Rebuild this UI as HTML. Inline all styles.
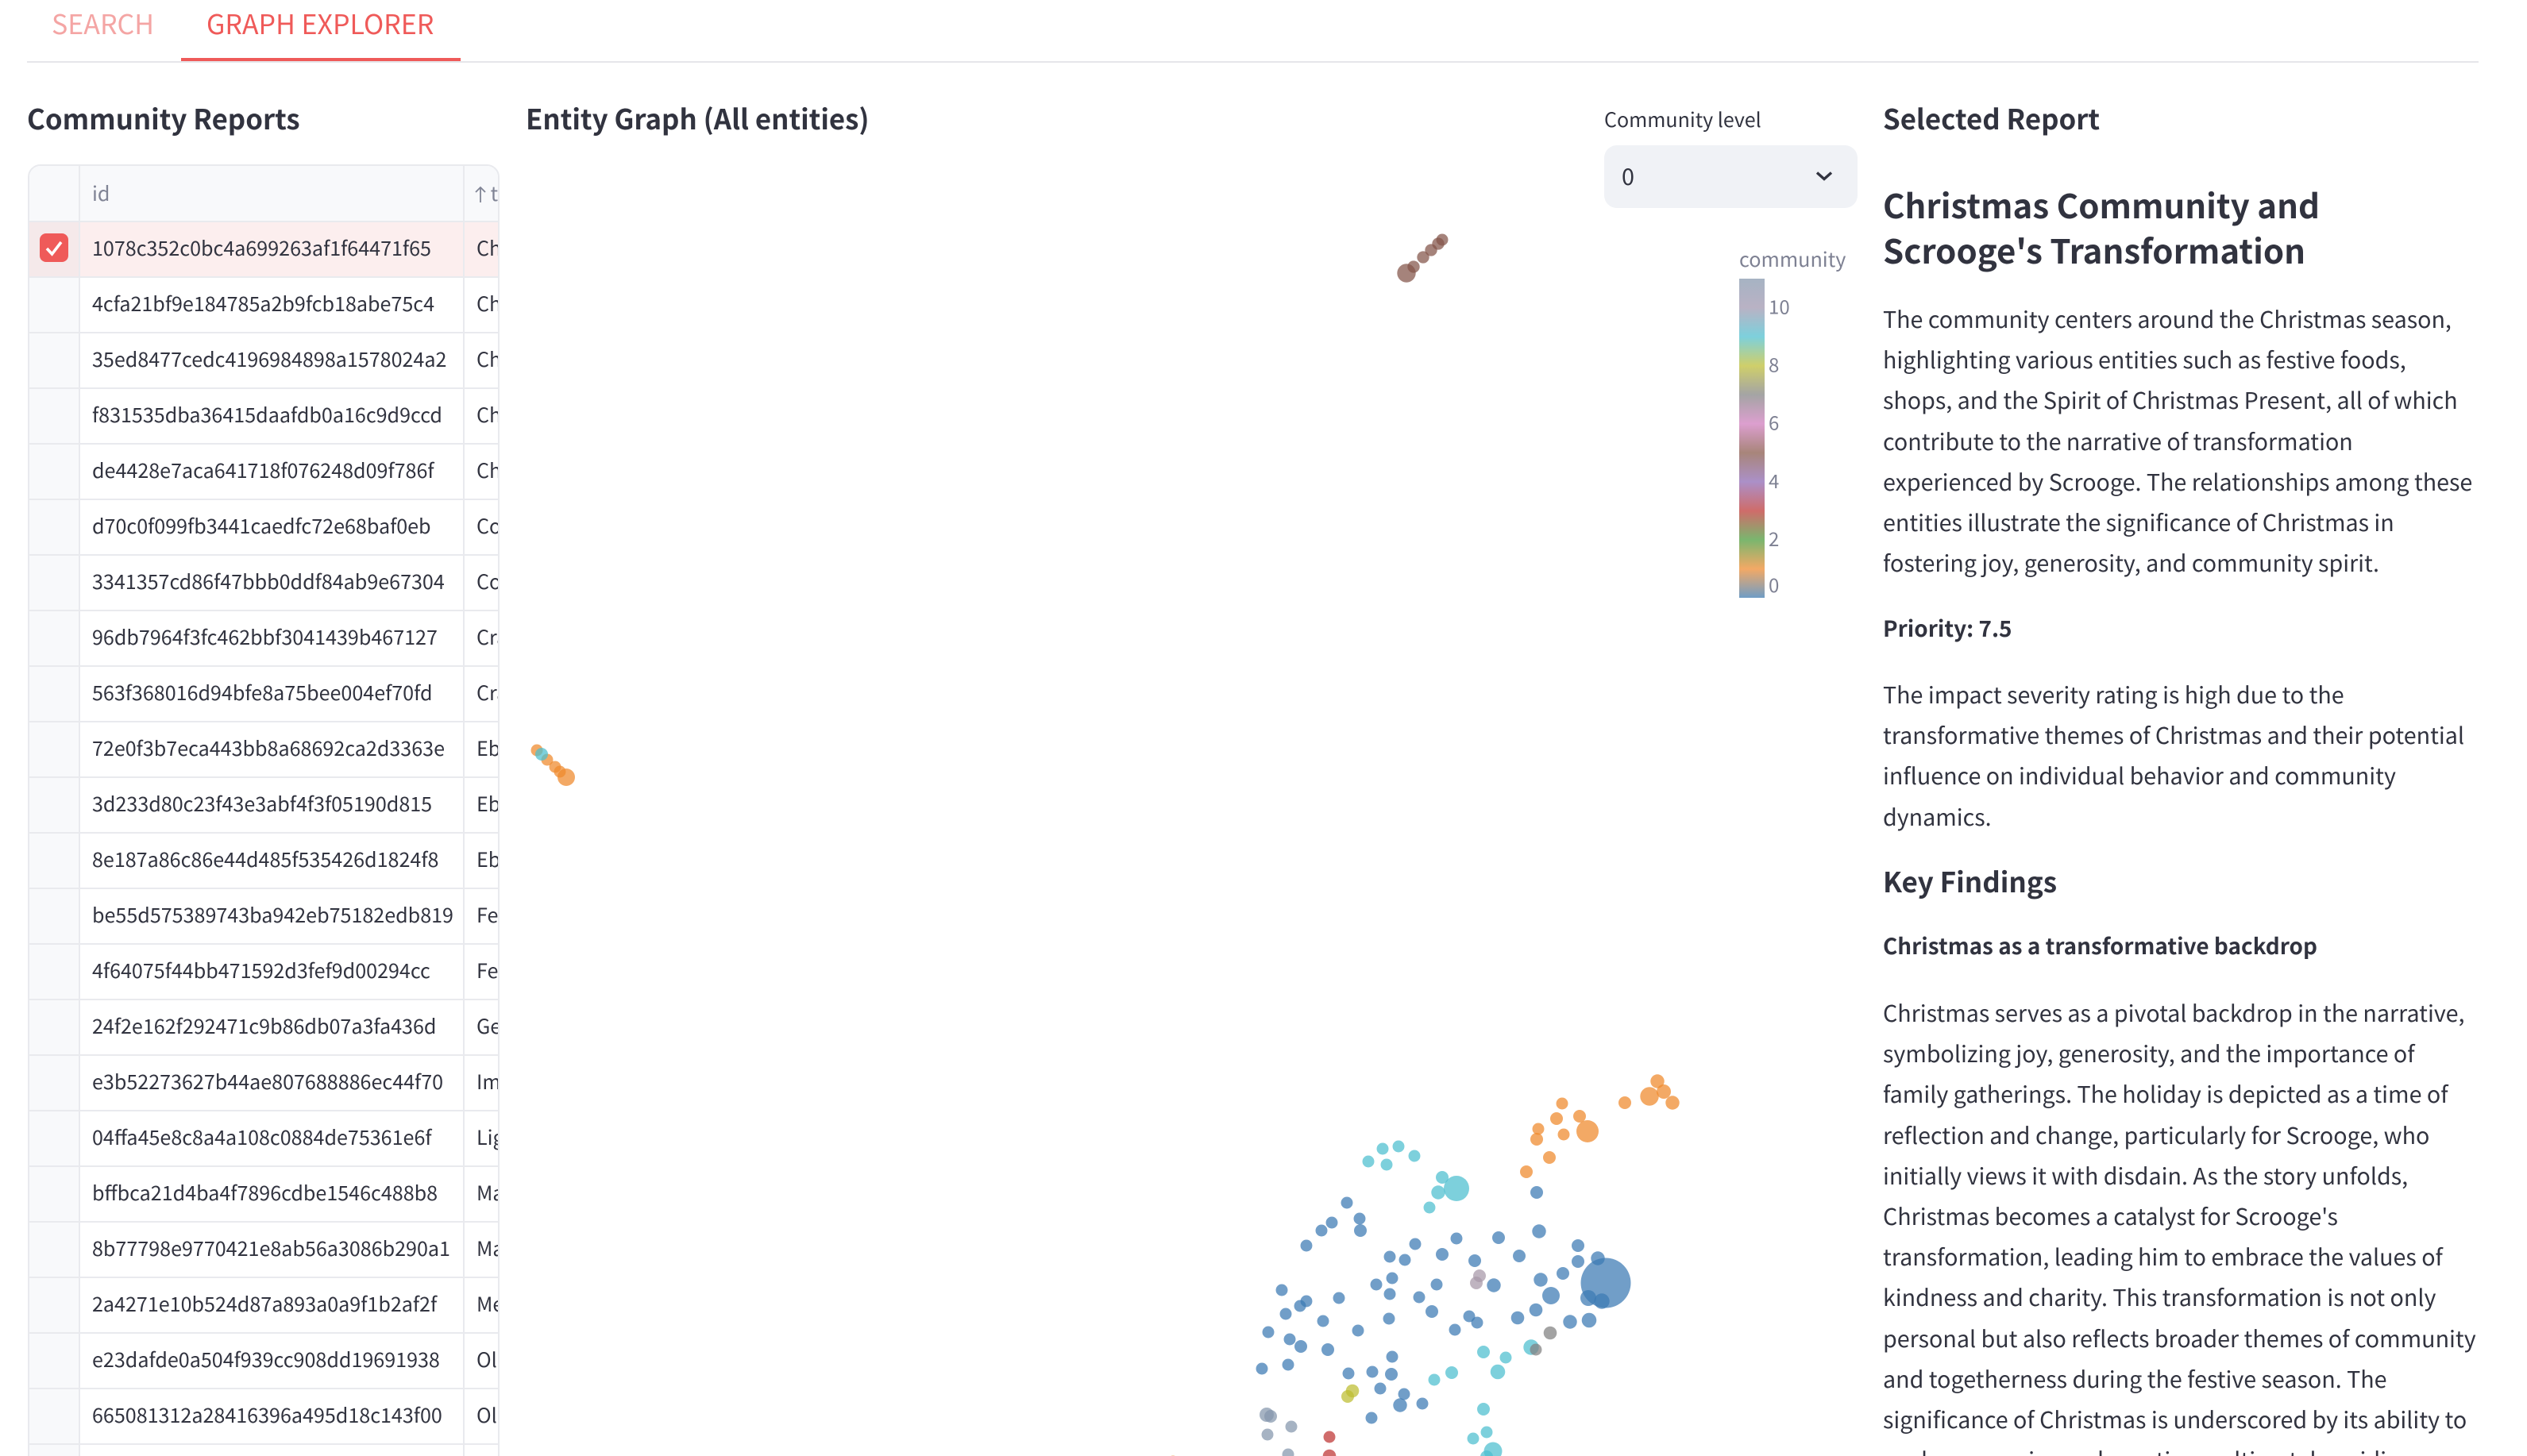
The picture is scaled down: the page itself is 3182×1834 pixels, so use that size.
<!DOCTYPE html>
<html lang="en">
<head>
<meta charset="utf-8">
<title>Graph Explorer</title>
<style>
html,body{margin:0;padding:0;width:3182px;height:1834px;overflow:hidden;background:#fff}
body{position:relative;color:#31333f;font-family:"Noto Sans CJK SC","Liberation Sans",sans-serif;font-size:28.8px}
.abs{position:absolute;white-space:nowrap}
.tab{font-size:34px;line-height:40px;top:9px;color:#ef5a59}
.h3{font-weight:700;font-size:34.8px;line-height:50px;top:123.5px}
.body-text{left:2371px;font-size:28.65px;line-height:51.2px}
.bold-text{left:2371px;font-size:27.9px;line-height:51px;font-weight:700}
#table{position:absolute;left:35px;top:207px;width:594px;height:1640px;overflow:hidden;border:2px solid #e9eaee;border-radius:16px 16px 0 0;box-sizing:border-box}
.row{position:absolute;left:0;width:590px;height:70px;box-sizing:border-box;border-bottom:2px solid #e9eaee;display:flex;font-size:25.1px;line-height:65px}
.cell-check{width:64px;flex:none;background:#f8f9fb;border-right:2px solid #e9eaee;box-sizing:border-box;position:relative}
.cell-id{width:484px;flex:none;border-right:2px solid #e9eaee;box-sizing:border-box;padding-left:15px;white-space:nowrap;overflow:hidden}
.cell-title{flex:1;padding-left:15px;overflow:hidden;white-space:nowrap}
.row.head{background:#f8f9fb;color:#808495;top:0;height:71px;line-height:68px}
.row.sel{background:#fceeee}
.row.sel .cell-check{background:#f5e9ea}
</style>
</head>
<body>

<div class="abs tab" style="left:65px;color:#f4a5a4">SEARCH</div>
<div class="abs tab" style="left:260px">GRAPH EXPLORER</div>
<div class="abs" style="left:34px;top:77px;width:3087px;height:2px;background:#e6e6ea"></div>
<div class="abs" style="left:228px;top:73px;width:352px;height:4px;background:#ef5a59"></div>

<div class="abs h3" style="left:34px">Community Reports</div>
<div class="abs h3" style="left:662px">Entity Graph (All entities)</div>
<div class="abs h3" style="left:2371px">Selected Report</div>

<div id="table">
  <div class="row head">
    <div class="cell-check"></div>
    <div class="cell-id">id</div>
    <div class="cell-title" style="padding-left:13px"><svg width="14" height="22" viewBox="0 0 14 22" style="vertical-align:-3px"><path d="M7 21V2M1 8l6-6 6 6" fill="none" stroke="#808495" stroke-width="1.8"/></svg> title</div>
  </div>
  <div class="row sel" style="top:71px"><div class="cell-check"><svg width="36" height="36" viewBox="0 0 36 36" style="position:absolute;left:13px;top:14px"><rect width="36" height="36" rx="8" fill="#ef5a59"/><path d="M9 19l6.500 7L27 11" fill="none" stroke="#fff" stroke-width="3.6"/></svg></div><div class="cell-id">1078c352c0bc4a699263af1f64471f65</div><div class="cell-title">Chr</div></div>
  <div class="row" style="top:141px"><div class="cell-check"></div><div class="cell-id">4cfa21bf9e184785a2b9fcb18abe75c4</div><div class="cell-title">Chr</div></div>
  <div class="row" style="top:211px"><div class="cell-check"></div><div class="cell-id">35ed8477cedc4196984898a1578024a2</div><div class="cell-title">Chr</div></div>
  <div class="row" style="top:281px"><div class="cell-check"></div><div class="cell-id">f831535dba36415daafdb0a16c9d9ccd</div><div class="cell-title">Chr</div></div>
  <div class="row" style="top:351px"><div class="cell-check"></div><div class="cell-id">de4428e7aca641718f076248d09f786f</div><div class="cell-title">Chr</div></div>
  <div class="row" style="top:421px"><div class="cell-check"></div><div class="cell-id">d70c0f099fb3441caedfc72e68baf0eb</div><div class="cell-title">Com</div></div>
  <div class="row" style="top:491px"><div class="cell-check"></div><div class="cell-id">3341357cd86f47bbb0ddf84ab9e67304</div><div class="cell-title">Com</div></div>
  <div class="row" style="top:561px"><div class="cell-check"></div><div class="cell-id">96db7964f3fc462bbf3041439b467127</div><div class="cell-title">Cra</div></div>
  <div class="row" style="top:631px"><div class="cell-check"></div><div class="cell-id">563f368016d94bfe8a75bee004ef70fd</div><div class="cell-title">Cra</div></div>
  <div class="row" style="top:701px"><div class="cell-check"></div><div class="cell-id">72e0f3b7eca443bb8a68692ca2d3363e</div><div class="cell-title">Ebe</div></div>
  <div class="row" style="top:771px"><div class="cell-check"></div><div class="cell-id">3d233d80c23f43e3abf4f3f05190d815</div><div class="cell-title">Ebe</div></div>
  <div class="row" style="top:841px"><div class="cell-check"></div><div class="cell-id">8e187a86c86e44d485f535426d1824f8</div><div class="cell-title">Ebe</div></div>
  <div class="row" style="top:911px"><div class="cell-check"></div><div class="cell-id">be55d575389743ba942eb75182edb819</div><div class="cell-title">Fez</div></div>
  <div class="row" style="top:981px"><div class="cell-check"></div><div class="cell-id">4f64075f44bb471592d3fef9d00294cc</div><div class="cell-title">Fez</div></div>
  <div class="row" style="top:1051px"><div class="cell-check"></div><div class="cell-id">24f2e162f292471c9b86db07a3fa436d</div><div class="cell-title">Geo</div></div>
  <div class="row" style="top:1121px"><div class="cell-check"></div><div class="cell-id">e3b52273627b44ae807688886ec44f70</div><div class="cell-title">Imp</div></div>
  <div class="row" style="top:1191px"><div class="cell-check"></div><div class="cell-id">04ffa45e8c8a4a108c0884de75361e6f</div><div class="cell-title">Lig</div></div>
  <div class="row" style="top:1261px"><div class="cell-check"></div><div class="cell-id">bffbca21d4ba4f7896cdbe1546c488b8</div><div class="cell-title">Mar</div></div>
  <div class="row" style="top:1331px"><div class="cell-check"></div><div class="cell-id">8b77798e9770421e8ab56a3086b290a1</div><div class="cell-title">Mar</div></div>
  <div class="row" style="top:1401px"><div class="cell-check"></div><div class="cell-id">2a4271e10b524d87a893a0a9f1b2af2f</div><div class="cell-title">Mer</div></div>
  <div class="row" style="top:1471px"><div class="cell-check"></div><div class="cell-id">e23dafde0a504f939cc908dd19691938</div><div class="cell-title">Old</div></div>
  <div class="row" style="top:1541px"><div class="cell-check"></div><div class="cell-id">665081312a28416396a495d18c143f00</div><div class="cell-title">Old</div></div>
  <div class="row" style="top:1611px"><div class="cell-check"></div><div class="cell-id"></div><div class="cell-title"></div></div>
</div>

<svg id="chart" width="1720" height="1834" viewBox="640 0 1720 1834" style="position:absolute;left:640px;top:0;overflow:hidden">
  <defs>
    <linearGradient id="legendGradient" x1="0" y1="1" x2="0" y2="0"></linearGradient>
  </defs>
  <g id="points"></g>
  <text x="2190" y="336" font-size="25.2" fill="#7e8193">community</text>
  <rect id="legendBar" x="2190" y="351" width="32" height="402" fill="url(#legendGradient)"></rect>
  <g id="legendLabels"></g>
</svg>

<div class="abs" style="left:2020px;top:130px;font-size:25px;line-height:40px">Community level</div>
<div class="abs" style="left:2020px;top:183px;width:319px;height:79px;border-radius:16px;background:#f0f2f6">
  <div class="abs" style="left:22px;top:19px;font-size:28.8px;line-height:40px">0</div>
  <svg class="abs" style="left:266px;top:32px" width="22" height="14" viewBox="0 0 22 14"><path d="M2 2.500l9 8 9-8" fill="none" stroke="#31333f" stroke-width="3.400"/></svg>
</div>

<div id="report">
  <div class="abs" style="left:2371px;top:229px;font-size:42px;line-height:57px;font-weight:700">Christmas Community and<br>Scrooge's Transformation</div>
  <div class="abs body-text" style="top:376px">The community centers around the Christmas season,<br>highlighting various entities such as festive foods,<br>shops, and the Spirit of Christmas Present, all of which<br>contribute to the narrative of transformation<br>experienced by Scrooge. The relationships among these<br>entities illustrate the significance of Christmas in<br>fostering joy, generosity, and community spirit.</div>
  <div class="abs bold-text" style="top:766px">Priority: 7.5</div>
  <div class="abs body-text" style="top:849px">The impact severity rating is high due to the<br>transformative themes of Christmas and their potential<br>influence on individual behavior and community<br>dynamics.</div>
  <div class="abs" style="left:2371px;top:1085px;font-size:35px;line-height:50px;font-weight:700">Key Findings</div>
  <div class="abs bold-text" style="top:1166px">Christmas as a transformative backdrop</div>
  <div class="abs body-text" style="top:1250px">Christmas serves as a pivotal backdrop in the narrative,<br>symbolizing joy, generosity, and the importance of<br>family gatherings. The holiday is depicted as a time of<br>reflection and change, particularly for Scrooge, who<br>initially views it with disdain. As the story unfolds,<br>Christmas becomes a catalyst for Scrooge's<br>transformation, leading him to embrace the values of<br>kindness and charity. This transformation is not only<br>personal but also reflects broader themes of community<br>and togetherness during the festive season. The<br>significance of Christmas is underscored by its ability to<br>evoke memories and emotions, ultimately guiding</div>
</div>

<script>
// Entity layout positions (layout units), node sizes and community assignment
const pointX = [
  1.6,2.9,3.9,4.5,5.3,
  130.7,130.0,132.9,133.9,130.9,127.7,127.5,129.1,126.2,138.6,142.7,143.5,141.7,144.6,81.7,
  136.2,103.6,105.2,105.3,101.7,100.4,98.5,112.2,109.0,110.9,115.6,117.4,109.3,107.3,109.0,114.9,112.7,114.3,117.2,108.9,102.6,95.4,98.5,97.7,95.9,100.6,105.0,93.7,96.4,97.8,101.2,109.3,96.2,92.9,103.8,106.8,109.2,107.8,110.8,110.3,113.1,106.7,122.7,127.8,132.7,132.7,135.2,134.0,135.7,119.7,125.3,130.8,128.0,122.1,129.3,127.4,125.1,119.0,120.0,131.7,134.1,127.5,
  2.2,115.6,115.1,117.4,114.0,106.3,108.1,110.1,112.1,108.6,120.8,123.6,126.8,122.6,116.8,114.6,120.8,121.2,119.5,122.0,121.2,
  111.1,112.0,113.2,114.2,115.1,115.6,
  129.2,127.4,
  120.3,119.9,
  104.3,103.7,
  93.5,94.0,96.6,93.6,96.2,
  101.4,101.4
];
const pointY = [
  88.9,87.7,86.8,86.2,85.5,
  44.4,42.5,42.8,40.9,40.5,41.2,39.9,37.6,35.8,44.5,47.2,45.9,45.3,44.5,-0.7,
  21.8,31.9,29.9,28.4,29.4,28.4,26.5,26.7,25.1,24.7,25.4,27.4,22.4,21.6,20.4,21.6,20.0,18.2,15.9,17.3,19.9,20.9,19.5,18.9,17.9,17.0,15.8,15.6,14.7,13.8,13.4,12.5,11.5,11.0,10.4,10.6,10.3,8.5,7.8,6.4,6.6,4.8,27.5,28.3,26.5,24.5,24.9,19.9,19.5,24.6,25.2,23.0,22.2,21.5,20.2,18.4,17.4,17.6,16.8,16.9,17.1,33.2,
  88.4,35.1,33.2,33.7,31.3,37.1,38.7,39.0,37.8,36.7,13.1,12.4,13.7,10.6,10.5,9.6,5.9,3.0,2.2,0.6,-0.1,
  149.0,149.8,151.0,151.9,152.7,153.2,
  15.5,13.4,
  22.7,21.8,
  8.2,7.5,
  5.2,5.0,3.7,2.7,0.2,
  2.4,0
];
const pointSize = [
  56,56,56,56,121,
  56,64,64,196,56,56,64,64,64,64,76,81,137,76,56,
  992,56,56,64,56,56,56,56,56,56,64,56,56,56,56,56,56,64,56,56,56,56,56,56,56,56,56,56,56,64,64,56,56,56,56,56,64,56,56,76,56,56,64,76,64,64,76,100,94,64,64,64,76,76,121,69,69,56,56,76,86,64,
  64,64,76,256,56,56,56,56,56,56,64,56,94,86,64,56,64,56,56,132,64,
  137,59,59,59,59,56,
  69,56,
  64,64,
  69,64,
  81,64,56,56,56,
  56,69
];
const pointCommunity = [
  1,1,1,1,1,
  1,1,1,1,1,1,1,1,1,1,1,1,1,1,1,
  0,0,0,0,0,0,0,0,0,0,0,0,0,0,0,0,0,0,0,0,0,0,0,0,0,0,0,0,0,0,0,0,0,0,0,0,0,0,0,0,0,0,0,0,0,0,0,0,0,0,0,0,0,0,0,0,0,0,0,0,0,0,
  9,9,9,9,9,9,9,9,9,9,9,9,9,9,9,9,9,9,9,9,9,
  5,5,5,5,5,5,
  7,7,
  10,10,
  8,8,
  11,11,11,11,11,
  3,3
];
const legendTicks = [0,2,4,6,8,10];
const legendDomainMax = 11;

const markColors = ['#3c7ab4','#ee892c','#4a9a3c','#be3534','#9068b8','#83554a','#d680c0','#818181','#bdbd32','#4dbecf','#a798a8','#8597ad'];
const legendColors = ['#6f9dc6','#f3a965','#7ab66e','#cf6c6a','#ab90c8','#a8857a','#dc9fcf','#a4a4a4','#cfcf6a','#7dd0dc','#b9b2c4','#a6b3c3'];

const SVG_NS = 'http://www.w3.org/2000/svg';
function xScale(v){ return 660 + v * 10; }
function yScale(v){ return 1834 - v * 10; }
function radiusScale(s){ return Math.sqrt(s); }
function legendY(v){ return 752 - v * (402 / legendDomainMax); }

const pointsGroup = document.getElementById('points');
pointX.forEach(function(x, i){
  const c = document.createElementNS(SVG_NS, 'circle');
  c.setAttribute('cx', xScale(x));
  c.setAttribute('cy', yScale(pointY[i]));
  c.setAttribute('r', radiusScale(pointSize[i]));
  c.setAttribute('fill', markColors[pointCommunity[i]]);
  c.setAttribute('fill-opacity', '0.73');
  
  
  pointsGroup.appendChild(c);
});

const gradient = document.getElementById('legendGradient');
legendColors.forEach(function(col, v){
  const s = document.createElementNS(SVG_NS, 'stop');
  s.setAttribute('offset', v / legendDomainMax);
  s.setAttribute('stop-color', col);
  gradient.appendChild(s);
});

const labelGroup = document.getElementById('legendLabels');
legendTicks.forEach(function(v){
  const t = document.createElementNS(SVG_NS, 'text');
  t.setAttribute('x', 2227);
  t.setAttribute('y', legendY(v) + (v === 0 ? -6 : 9));
  t.setAttribute('font-size', '24');
  t.setAttribute('fill', '#7e8193');
  
  
  t.textContent = v;
  labelGroup.appendChild(t);
});
</script>
</body>
</html>
